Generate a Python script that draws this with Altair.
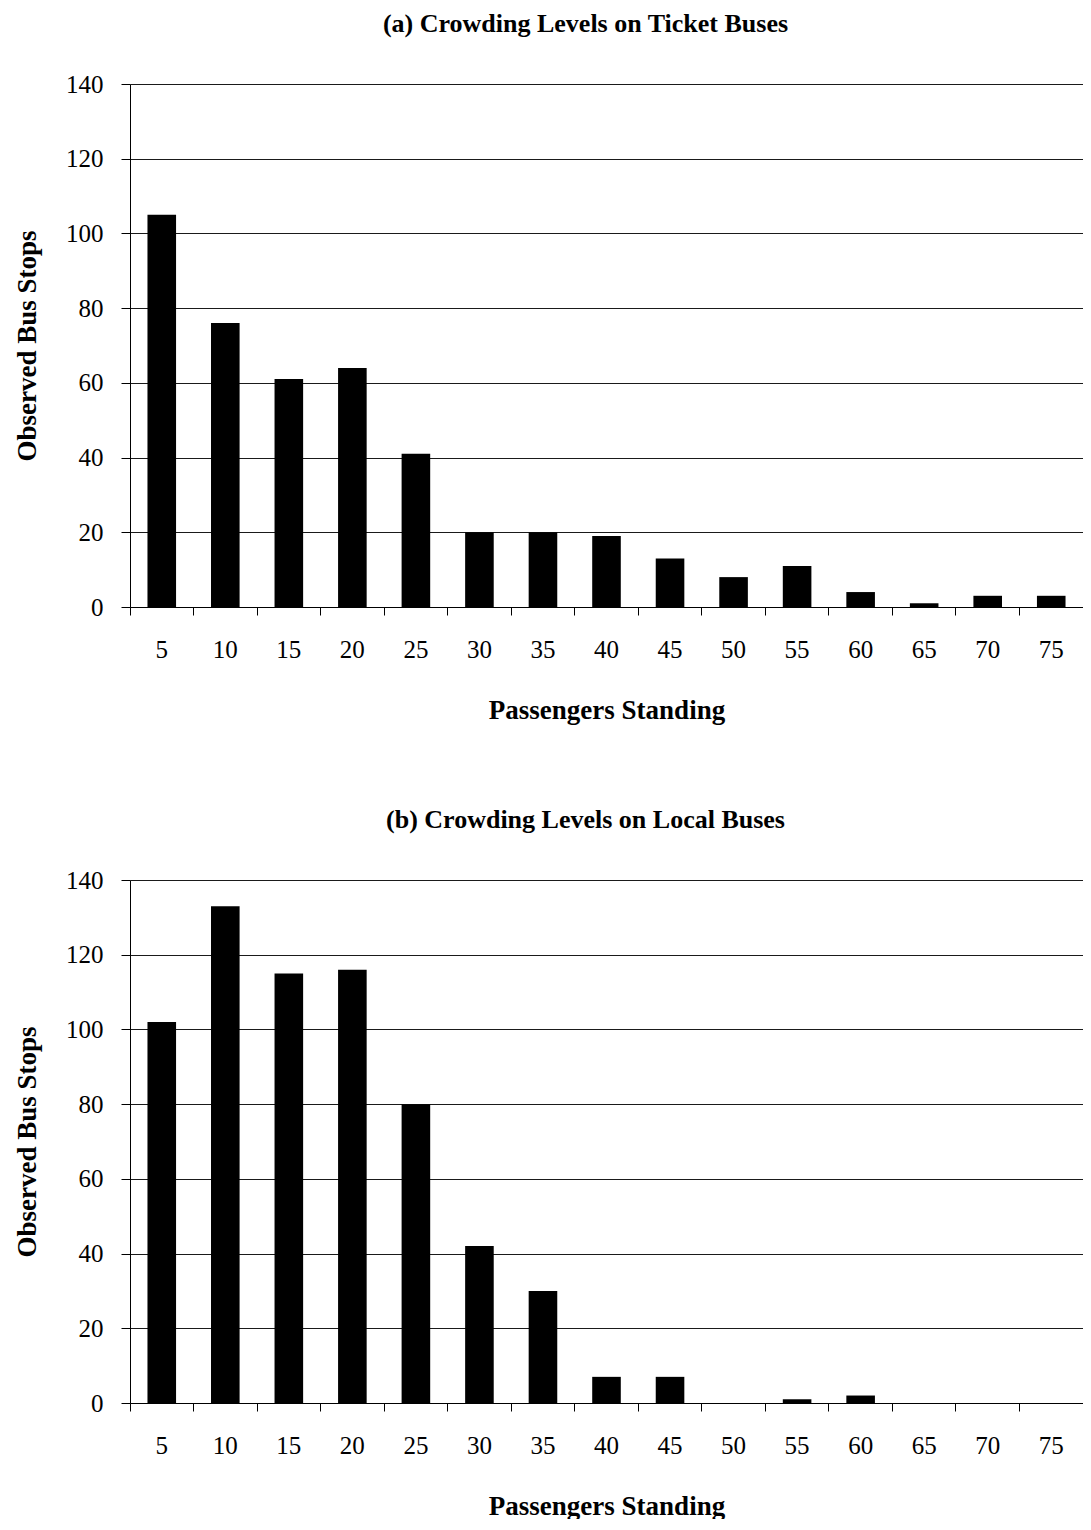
import altair as alt
import pandas as pd

categories = ["5", "10", "15", "20", "25", "30", "35", "40", "45", "50", "55", "60", "65", "70", "75"]
ticket_values = [105, 76, 61, 64, 41, 20, 20, 19, 13, 8, 11, 4, 1, 3, 3]
local_values = [102, 133, 115, 116, 80, 42, 30, 7, 7, 0, 1, 2, 0, 0, 0]
y_ticks = [0, 20, 40, 60, 80, 100, 120, 140]

FONT = "Liberation Serif"
PLOT_W = 953


def panel(values, title):
    df = pd.DataFrame({"standing": categories, "stops": values})
    return (
        alt.Chart(df)
        .mark_bar(color="black", width=alt.RelativeBandSize(0.45))
        .encode(
            x=alt.X(
                "standing:N",
                sort=categories,
                scale=alt.Scale(paddingInner=0, paddingOuter=0),
                axis=alt.Axis(
                    title="Passengers Standing",
                    labelAngle=0,
                    bandPosition=0,
                    tickSize=8,
                    labelPadding=22,
                    titlePadding=35,
                ),
            ),
            y=alt.Y(
                "stops:Q",
                scale=alt.Scale(domain=[0, 140], nice=False),
                axis=alt.Axis(
                    title="Observed Bus Stops",
                    values=y_ticks,
                    tickSize=9,
                    labelPadding=18,
                    titlePadding=24,
                    grid=True,
                ),
            ),
        )
        .properties(
            width=PLOT_W,
            height=523,
            title=alt.TitleParams(title, dx=-21, offset=35),
        )
    )


chart = (
    alt.vconcat(
        panel(ticket_values, "(a) Crowding Levels on Ticket Buses"),
        panel(local_values, "(b) Crowding Levels on Local Buses"),
        spacing=84,
        background="white",
        padding={"top": 3, "bottom": 0, "left": 5, "right": 0},
    )
    .configure_view(stroke=None)
    .configure_axis(
        labelFont=FONT,
        titleFont=FONT,
        labelFontSize=25,
        titleFontSize=27,
        titleFontWeight="bold",
        labelColor="black",
        titleColor="black",
        domainColor="black",
        tickColor="black",
        gridColor="#1a1a1a",
        gridWidth=1,
        domainWidth=1,
        tickWidth=1,
    )
    .configure_title(font=FONT, fontSize=26, fontWeight="bold", color="black", anchor="middle")
)

chart.save("out.html", embed_options={"renderer": "svg", "actions": False})
